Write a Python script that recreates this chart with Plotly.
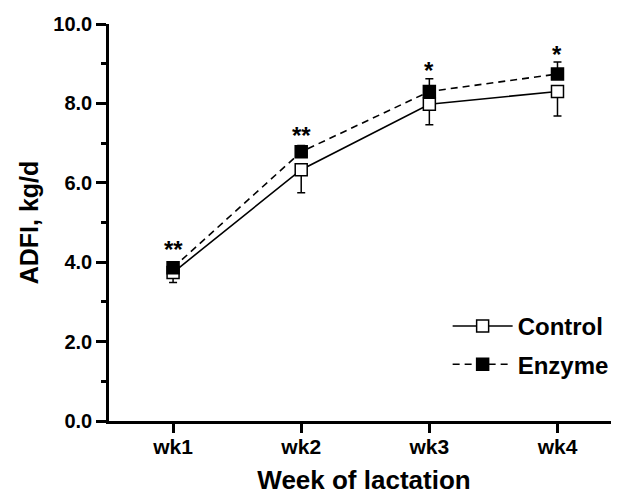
import plotly.graph_objects as go

weeks = ["wk1", "wk2", "wk3", "wk4"]
control = [3.74, 6.33, 7.98, 8.30]
control_err = [0.25, 0.58, 0.52, 0.62]
enzyme = [3.86, 6.78, 8.30, 8.74]
enzyme_err = [0.12, 0.16, 0.32, 0.30]
sig_labels = ["**", "**", "*", "*"]
sig_y = [4.33, 7.18, 8.83, 9.24]

FONT = "Liberation Sans"

fig = go.Figure()
fig.add_trace(go.Scatter(
    x=weeks, y=control, name="Control", mode="lines+markers", legendgroup="c",
    line=dict(color="black", width=1.6, dash="solid"),
    marker=dict(symbol="square", size=12, color="white", line=dict(color="black", width=1.5)),
    error_y=dict(type="data", symmetric=False, array=[0, 0, 0, 0], arrayminus=control_err,
                 color="black", thickness=1.5, width=4),
))
fig.add_trace(go.Scatter(
    x=weeks, y=enzyme, name="Enzyme", mode="lines+markers", legendgroup="e",
    line=dict(color="black", width=1.6, dash="7px,5px"),
    marker=dict(symbol="square", size=12, color="black", line=dict(color="black", width=1.5)),
    error_y=dict(type="data", symmetric=False, array=enzyme_err, arrayminus=[0, 0, 0, 0],
                 color="black", thickness=1.5, width=4),
))

for w, s, yv in zip(weeks, sig_labels, sig_y):
    fig.add_annotation(x=w, y=yv, text=s, showarrow=False,
                       font=dict(family=FONT, size=24, color="black", weight="bold"))

fig.update_layout(
    width=611, height=489,
    margin=dict(l=101, r=0, t=16, b=76),
    paper_bgcolor="white", plot_bgcolor="white",
    font=dict(family=FONT, color="black"),
    showlegend=True,
    legend=dict(x=0.664, y=0.295, xanchor="left", yanchor="top",
                font=dict(family=FONT, size=24, color="black", weight="bold"),
                itemwidth=60, bgcolor="rgba(0,0,0,0)", tracegroupgap=4),
)
fig.update_xaxes(
    type="category", range=[-0.5, 3.48],
    showline=True, linecolor="black", linewidth=2.5,
    ticks="outside", ticklen=9, tickwidth=2.5, tickcolor="black",
    ticklabelstandoff=-4,
    showgrid=False, zeroline=False,
    tickfont=dict(family=FONT, size=21, color="black", weight="bold"),
    title=dict(text="Week of lactation", standoff=14,
               font=dict(family=FONT, size=26, color="black", weight="bold")),
)
fig.update_yaxes(
    range=[0, 10], dtick=2, tick0=0, tickformat=".1f",
    showline=True, linecolor="black", linewidth=2.5,
    ticks="outside", ticklen=10, tickwidth=2.5, tickcolor="black",
    minor=dict(dtick=1, ticks="outside", ticklen=5, tickwidth=2.5, tickcolor="black", showgrid=False),
    showgrid=False, zeroline=False,
    tickfont=dict(family=FONT, size=20, color="black", weight="bold"),
    title=dict(text="ADFI, kg/d", standoff=8,
               font=dict(family=FONT, size=25, color="black", weight="bold")),
)

fig.write_html("out.html")
